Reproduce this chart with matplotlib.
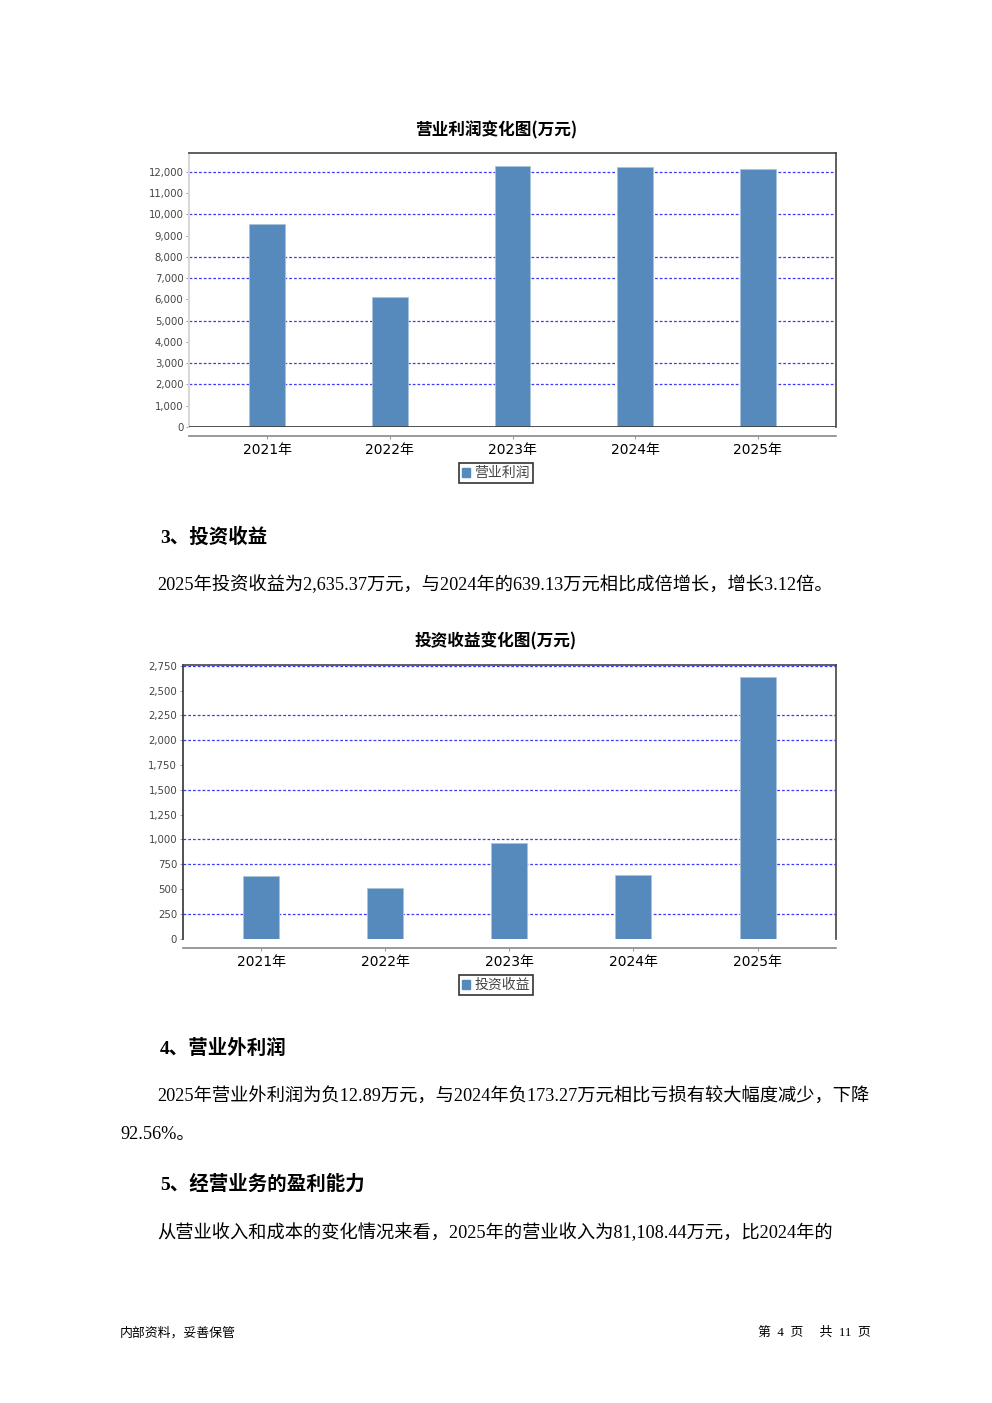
import matplotlib
matplotlib.use("Agg")
import matplotlib.pyplot as plt
from matplotlib.ticker import FuncFormatter, MultipleLocator
from matplotlib.patches import Patch

plt.rcParams['font.family'] = ['DejaVu Sans', 'Noto Sans CJK SC']

# ---- data ----
years = ["2021年", "2022年", "2023年", "2024年", "2025年"]
op_profit = [9550, 6130, 12280, 12220, 12130]
op_grid = [12000, 10000, 8000, 7000, 5000, 3000, 2000]
inv_income = [635, 508, 964, 639.13, 2635.37]
inv_grid = [2750, 2250, 2000, 1500, 1000, 750, 250]

title1 = "营业利润变化图(万元)"
title2 = "投资收益变化图(万元)"
legend1 = "营业利润"
legend2 = "投资收益"

W, H = 992, 1403
BAR = "#5689BC"
GRID = "#3a3aff"

fig = plt.figure(figsize=(W / 100, H / 100), dpi=100)


def fx(px):
    return px / W


def fy(py):
    return 1 - py / H


def make_chart(rect_px, values, ymax, step, grid_vals, left_color, zero_line, margin):
    l, t, r, b = rect_px
    ax = fig.add_axes([fx(l), fy(b), fx(r - l), (b - t) / H])
    x = list(range(len(values)))
    bars = ax.bar(x, values, width=0.29, color=BAR, edgecolor="#a9c3de", linewidth=0.6, zorder=3)
    ax.set_xlim(-margin, len(values) - 1 + margin)
    ax.set_ylim(0, ymax)
    ax.yaxis.set_major_locator(MultipleLocator(step))
    ax.yaxis.set_major_formatter(FuncFormatter(lambda v, p: f"{int(round(v)):,}"))
    for g in grid_vals:
        ax.axhline(g, color=GRID, lw=0.9, linestyle=(0, (2.2, 1.6)), zorder=1)
    if zero_line:
        ax.axhline(0, color="#444444", lw=1.3, zorder=4)
    ax.set_xticks(x)
    ax.set_xticklabels(years, fontsize=7.7, color="#333333")
    ax.tick_params(axis="y", labelsize=7.3, labelcolor="#444444", length=2, width=0.6,
                   color="#888888", pad=2)
    ax.tick_params(axis="x", length=2, width=0.6, color="#888888", pad=3)
    ax.spines["bottom"].set_position(("outward", 6.5))
    ax.spines["bottom"].set_color("#888888")
    ax.spines["bottom"].set_linewidth(1.2)
    ax.spines["left"].set_color(left_color)
    ax.spines["left"].set_linewidth(1.5 if left_color != "#333333" else 1.2)
    ax.spines["top"].set_color("#444444")
    ax.spines["right"].set_color("#444444")
    ax.spines["top"].set_linewidth(1.2)
    ax.spines["right"].set_linewidth(1.2)
    return ax, bars


ax1, b1 = make_chart((189, 153, 836, 427), op_profit, 12894, 1000, op_grid, "#d8d8d8", True, 0.637)
ax2, b2 = make_chart((182.7, 664.7, 836, 938.7), inv_income, 2760, 250, inv_grid, "#333333", False, 0.632)

# chart titles
fig.text(fx(496), fy(130), title1, ha="center", va="center", fontsize=12, fontweight="bold",
         family=["Noto Sans CJK SC"])
fig.text(fx(496), fy(641), title2, ha="center", va="center", fontsize=12, fontweight="bold",
         family=["Noto Sans CJK SC"])


def legend_at(label, cy):
    h = Patch(facecolor=BAR, edgecolor=BAR)
    lg = fig.legend([h], [label], loc="center", bbox_to_anchor=(fx(496), fy(cy)),
                    frameon=True, fancybox=False, edgecolor="black", handlelength=0.6,
                    handleheight=0.6, handletextpad=0.3, borderpad=0.25,
                    prop={"family": ["Noto Sans CJK SC"], "size": 10})
    lg.get_frame().set_linewidth(1.2)
    for t in lg.get_texts():
        t.set_color("#444444")
    return lg


legend_at(legend1, 473)
legend_at(legend2, 985)

# body text
BODY = ["Liberation Serif", "Noto Sans CJK SC"]
HEAD = ["Liberation Serif", "Noto Sans CJK SC"]
FS = 13.15

fig.text(fx(160), fy(537), "3、投资收益", ha="left", va="center", fontsize=14, fontweight="bold", family=HEAD)
fig.text(fx(157), fy(585), "2025年投资收益为2,635.37万元，与2024年的639.13万元相比成倍增长，增长3.12倍。",
         ha="left", va="center", fontsize=FS, family=BODY)
fig.text(fx(160), fy(1048), "4、营业外利润", ha="left", va="center", fontsize=14, fontweight="bold", family=HEAD)
fig.text(fx(157), fy(1097), "2025年营业外利润为负12.89万元，与2024年负173.27万元相比亏损有较大幅度减少，下降",
         ha="left", va="center", fontsize=FS, family=BODY)
fig.text(fx(120), fy(1135), "92.56%。", ha="left", va="center", fontsize=FS, family=BODY)
fig.text(fx(160), fy(1184), "5、经营业务的盈利能力", ha="left", va="center", fontsize=14, fontweight="bold", family=HEAD)
fig.text(fx(157), fy(1233), "从营业收入和成本的变化情况来看，2025年的营业收入为81,108.44万元，比2024年的",
         ha="left", va="center", fontsize=FS, family=BODY)

# footer
fig.text(fx(120), fy(1333), "内部资料，妥善保管", ha="left", va="center", fontsize=9.3, family=["Noto Sans CJK SC"])
fig.text(fx(871), fy(1333), "第  4  页     共  11  页", ha="right", va="center", fontsize=9.3, family=BODY)

fig.savefig("out.png", dpi=100)
